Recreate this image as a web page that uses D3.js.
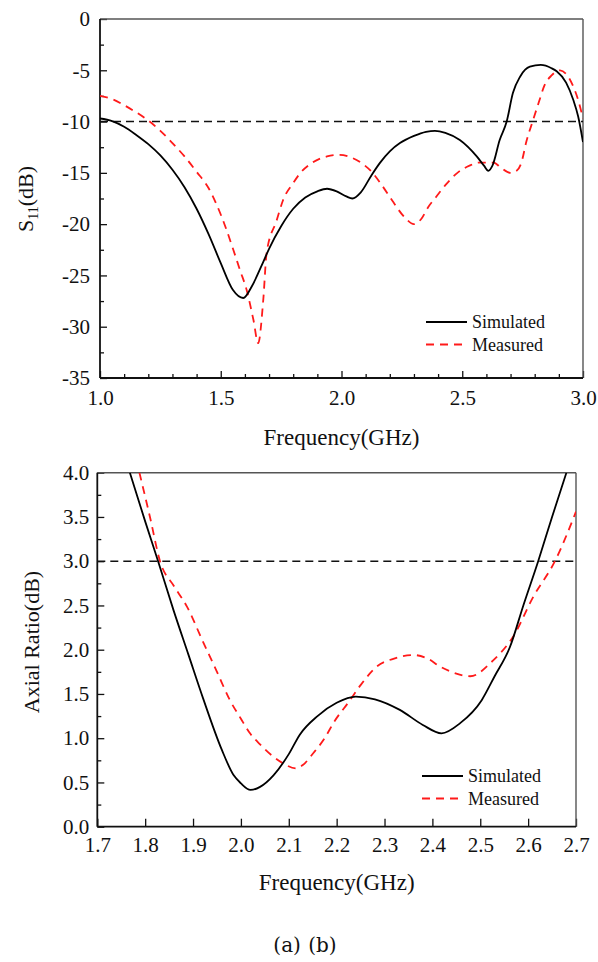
<!DOCTYPE html>
<html>
<head>
<meta charset="utf-8">
<script src="https://cdn.jsdelivr.net/npm/d3@7"></script>
<style>
  body { margin: 0; background: #fff; }
  svg text { font-family: 'Liberation Serif', serif; fill: #111; }
</style>
</head>
<body>
<svg id="canvas" width="598" height="962"></svg>
<script>
// ---- (a) S11 data ----
const s11SimFreq = [1.00,1.05,1.10,1.15,1.20,1.25,1.30,1.35,1.40,1.45,1.50,1.55,1.593,1.63,1.67,1.70,1.75,1.80,1.85,1.90,1.94,1.98,2.02,2.045,2.08,2.125,2.16,2.20,2.242,2.30,2.35,2.387,2.43,2.49,2.56,2.59,2.608,2.625,2.655,2.684,2.71,2.74,2.78,2.825,2.87,2.891,2.93,2.96,2.98,3.00]
const s11Sim = [-9.7,-9.95,-10.5,-11.3,-12.2,-13.3,-14.7,-16.4,-18.5,-21.0,-23.8,-26.4,-27.2,-26.0,-24.0,-22.4,-20.2,-18.5,-17.4,-16.8,-16.55,-16.8,-17.3,-17.5,-16.9,-15.2,-14.0,-12.9,-12.1,-11.4,-11.0,-10.9,-11.1,-11.8,-13.4,-14.3,-14.8,-14.3,-11.8,-10.0,-7.2,-5.6,-4.65,-4.48,-4.8,-5.1,-6.2,-7.9,-9.5,-12.0]
const s11MeasFreq = [1.00,1.05,1.10,1.15,1.20,1.25,1.30,1.35,1.40,1.45,1.483,1.52,1.552,1.58,1.607,1.635,1.655,1.676,1.69,1.732,1.759,1.80,1.83,1.88,1.94,1.99,2.04,2.08,2.125,2.17,2.21,2.26,2.30,2.33,2.36,2.39,2.43,2.48,2.53,2.57,2.63,2.66,2.70,2.725,2.745,2.765,2.794,2.82,2.84,2.87,2.905,2.935,2.96,2.98,3.00]
const s11Meas = [-7.5,-7.8,-8.4,-9.1,-9.9,-10.9,-12.1,-13.4,-14.9,-16.5,-18.1,-20.3,-22.5,-24.5,-26.4,-29.3,-31.6,-27.4,-22.8,-19.6,-17.6,-16.0,-15.0,-14.0,-13.4,-13.25,-13.5,-14.0,-14.9,-16.3,-17.7,-19.3,-20.0,-19.5,-18.3,-17.4,-16.2,-15.0,-14.3,-14.0,-14.0,-14.5,-15.0,-14.8,-14.0,-12.0,-9.8,-7.9,-6.5,-5.5,-5.0,-5.5,-6.6,-7.9,-9.7]
const s11Limit = -10
const s11XTicks = [1.0, 1.5, 2.0, 2.5, 3.0]
const s11YTicks = [0, -5, -10, -15, -20, -25, -30, -35]

// ---- (b) axial ratio data ----
const arSimFreq = [1.768,1.80,1.827,1.859,1.89,1.921,1.96,1.985,2.00,2.02,2.04,2.068,2.10,2.123,2.16,2.20,2.24,2.28,2.332,2.38,2.419,2.458,2.503,2.53,2.562,2.59,2.621,2.65,2.68]
const arSim = [4.0,3.45,3.0,2.45,1.95,1.45,0.87,0.58,0.49,0.415,0.45,0.58,0.82,1.04,1.25,1.40,1.47,1.44,1.32,1.15,1.055,1.17,1.43,1.70,2.03,2.5,3.0,3.5,4.0]
const arMeasFreq = [1.788,1.81,1.831,1.86,1.887,1.92,1.95,1.977,2.00,2.019,2.04,2.068,2.09,2.115,2.13,2.151,2.175,2.193,2.228,2.25,2.284,2.32,2.36,2.39,2.416,2.45,2.479,2.527,2.569,2.611,2.656,2.70]
const arMeas = [4.0,3.5,3.0,2.72,2.49,2.1,1.75,1.43,1.22,1.055,0.93,0.79,0.71,0.66,0.70,0.83,1.0,1.17,1.43,1.6,1.81,1.9,1.94,1.9,1.81,1.73,1.70,1.88,2.15,2.6,3.0,3.56]
const arLimit = 3.0
const arXTicks = [1.7,1.8,1.9,2.0,2.1,2.2,2.3,2.4,2.5,2.6,2.7]
const arYTicks = [0,0.5,1.0,1.5,2.0,2.5,3.0,3.5,4.0]

const legendNames = ['Simulated', 'Measured']

const svg = d3.select('#canvas')

const drawPanel = (cfg) => {
    const g = svg.append('g')
    const x = d3.scaleLinear().domain(cfg.xDomain).range([cfg.left, cfg.right])
    const y = d3.scaleLinear().domain(cfg.yDomain).range([cfg.bottom, cfg.top])

    const clipId = 'clip-' + cfg.id
    g.append('clipPath').attr('id', clipId)
        .append('rect')
        .attr('x', cfg.left).attr('y', cfg.top)
        .attr('width', cfg.right - cfg.left).attr('height', cfg.bottom - cfg.top)

    // minor ticks
    if (cfg.xMinor) {
        g.append('g')
            .attr('transform', `translate(0,${cfg.bottom})`)
            .call(d3.axisBottom(x).tickValues(cfg.xMinor).tickSize(-4).tickFormat(''))
            .call(a => a.select('.domain').remove())
    }
    g.append('g')
        .attr('transform', `translate(${cfg.left},0)`)
        .call(d3.axisLeft(y).tickValues(cfg.yMinor).tickSize(-4).tickFormat(''))
        .call(a => a.select('.domain').remove())

    // major ticks + labels
    const xAxis = g.append('g')
        .attr('transform', `translate(0,${cfg.bottom})`)
        .call(d3.axisBottom(x).tickValues(cfg.xTicks).tickSize(-cfg.xTickLen)
            .tickPadding(cfg.xPad).tickFormat(d3.format('.1f')))
    xAxis.select('.domain').remove()
    xAxis.selectAll('text').attr('font-size', 21)

    const yAxis = g.append('g')
        .attr('transform', `translate(${cfg.left},0)`)
        .call(d3.axisLeft(y).tickValues(cfg.yTicks).tickSize(-7)
            .tickPadding(cfg.yPad).tickFormat(cfg.yFormat))
    yAxis.select('.domain').remove()
    yAxis.selectAll('text').attr('font-size', 21)

    g.selectAll('.tick line').attr('stroke', '#111').attr('stroke-width', 1.3)

    // frame
    g.append('line').attr('x1', cfg.left).attr('x2', cfg.right).attr('y1', cfg.top).attr('y2', cfg.top)
        .attr('stroke', '#555').attr('stroke-width', 1.4)
    g.append('line').attr('x1', cfg.right).attr('x2', cfg.right).attr('y1', cfg.top).attr('y2', cfg.bottom)
        .attr('stroke', '#555').attr('stroke-width', 1.4)
    g.append('line').attr('x1', cfg.left).attr('x2', cfg.left).attr('y1', cfg.top).attr('y2', cfg.bottom)
        .attr('stroke', '#111').attr('stroke-width', 1.8)
    g.append('line').attr('x1', cfg.left).attr('x2', cfg.right).attr('y1', cfg.bottom).attr('y2', cfg.bottom)
        .attr('stroke', '#111').attr('stroke-width', 1.8)

    // limit line
    g.append('line')
        .attr('x1', cfg.left).attr('x2', cfg.right)
        .attr('y1', y(cfg.limit)).attr('y2', y(cfg.limit))
        .attr('stroke', '#111').attr('stroke-width', 1.6)
        .attr('stroke-dasharray', '8,5')

    const line = d3.line()
        .x(d => x(d[0])).y(d => y(d[1]))
        .curve(d3.curveMonotoneX)

    const sim = d3.zip(cfg.simF, cfg.simV)
    const meas = d3.zip(cfg.measF, cfg.measV)

    g.append('path').datum(meas)
        .attr('clip-path', `url(#${clipId})`)
        .attr('d', line).attr('fill', 'none')
        .attr('stroke', '#ff1a1a').attr('stroke-width', 1.8)
        .attr('stroke-dasharray', '8,6')
    g.append('path').datum(sim)
        .attr('clip-path', `url(#${clipId})`)
        .attr('d', line).attr('fill', 'none')
        .attr('stroke', '#000').attr('stroke-width', 1.8)

    // legend
    const lx = cfg.right + cfg.legendDx
    legendNames.forEach((name, i) => {
        const ly = cfg.legendY + i * 22.5
        g.append('line')
            .attr('x1', lx).attr('x2', lx + 41)
            .attr('y1', ly).attr('y2', ly)
            .attr('stroke', i === 0 ? '#000' : '#ff1a1a')
            .attr('stroke-width', 1.8)
            .attr('stroke-dasharray', i === 0 ? null : '8,6')
        g.append('text')
            .attr('x', lx + 46).attr('y', ly + 6)
            .attr('font-size', 18)
            .text(name)
    })

    // x title
    g.append('text')
        .attr('x', (cfg.left + cfg.right) / 2).attr('y', cfg.xTitleY)
        .attr('text-anchor', 'middle').attr('font-size', 23)
        .text('Frequency(GHz)')

    return g
}

// (a) S11 panel
const pa = drawPanel({
    id: 'a', left: 100, right: 583, top: 19, bottom: 378,
    xDomain: [1.0, 3.0], yDomain: [-35, 0],
    xTicks: s11XTicks, yTicks: s11YTicks,
    xMinor: d3.range(1.1, 3.0, 0.1).filter((d, i) => (i + 1) % 5 !== 0),
    yMinor: d3.range(-32.5, 0, 5),
    xTickLen: 7, xPad: 12, yPad: 10,
    yFormat: d => String(d),
    limit: s11Limit,
    simF: s11SimFreq, simV: s11Sim, measF: s11MeasFreq, measV: s11Meas,
    legendDx: -157, legendY: 322,
    xTitleY: 445
})
const ya = pa.append('text')
    .attr('transform', 'translate(33,199) rotate(-90)')
    .attr('text-anchor', 'middle').attr('font-size', 22)
ya.append('tspan').text('S')
ya.append('tspan').attr('font-size', 14).attr('dy', 5).text('11')
ya.append('tspan').attr('dy', -5).text('(dB)')

// (b) axial ratio panel
const pb = drawPanel({
    id: 'b', left: 97.3, right: 576, top: 472.7, bottom: 826.7,
    xDomain: [1.7, 2.7], yDomain: [0, 4],
    xTicks: arXTicks, yTicks: arYTicks,
    xMinor: null,
    yMinor: d3.range(0.25, 4, 0.5),
    xTickLen: 8, xPad: 10, yPad: 8,
    yFormat: d3.format('.1f'),
    limit: arLimit,
    simF: arSimFreq, simV: arSim, measF: arMeasFreq, measV: arMeas,
    legendDx: -154, legendY: 776,
    xTitleY: 890
})
pb.append('text')
    .attr('transform', 'translate(39,642) rotate(-90)')
    .attr('text-anchor', 'middle').attr('font-size', 22)
    .text('Axial Ratio(dB)')

// caption
svg.append('text')
    .attr('x', 305).attr('y', 952)
    .attr('text-anchor', 'middle')
    .attr('font-size', 20)
    .style('font-family', "'DejaVu Serif', serif")
    .style('word-spacing', '1px')
    .text('(a) (b)')
</script>
</body>
</html>
